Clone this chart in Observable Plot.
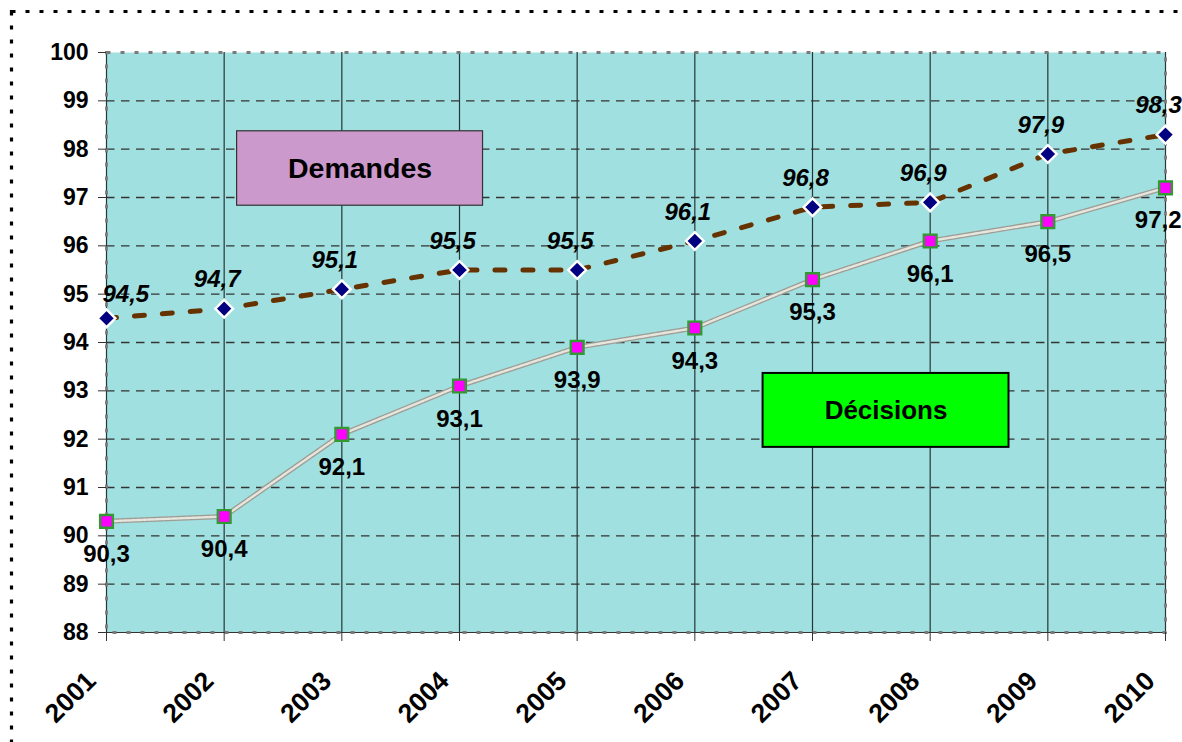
<!DOCTYPE html>
<html><head><meta charset="utf-8">
<script src="https://cdn.jsdelivr.net/npm/d3@7"></script>
<script src="https://cdn.jsdelivr.net/npm/@observablehq/plot@0.6"></script>
<style>html,body{margin:0;padding:0;background:#fff;} #chart svg{display:block;}</style>
</head><body><div id="chart"></div>
<script>
const years = [2001, 2002, 2003, 2004, 2005, 2006, 2007, 2008, 2009, 2010];
const demandes = [94.5, 94.7, 95.1, 95.5, 95.5, 96.1, 96.8, 96.9, 97.9, 98.3];
const decisions = [90.3, 90.4, 92.1, 93.1, 93.9, 94.3, 95.3, 96.1, 96.5, 97.2];
const yTicks = d3.range(88, 101);
const seriesNames = ["Demandes", "Décisions"];

const fmt = v => v.toFixed(1).replace(".", ",");
const dem = years.map((year, i) => ({year, value: demandes[i]}));
const dec = years.map((year, i) => ({year, value: decisions[i]}));
const FONT = "'Liberation Sans', Arial, sans-serif";
const last = years.length - 1;

const plot = Plot.plot({
  width: 1182, height: 742,
  marginLeft: 106, marginRight: 17, marginTop: 52, marginBottom: 110,
  style: {fontFamily: FONT, background: "white", overflow: "visible", color: "black"},
  x: {type: "linear", domain: [2001, 2010]},
  y: {domain: [88, 100]},
  marks: [
    Plot.frame({fill: "#a1e0e0"}),
    Plot.ruleX(years, {stroke: "#263636", strokeWidth: 1.2}),
    Plot.ruleY(yTicks.slice(1, -1), {stroke: "#333", strokeWidth: 1.3, strokeDasharray: "8.5,6.5"}),
    Plot.ruleY([88], {stroke: "#333", strokeWidth: 1}),
    Plot.frame({stroke: "#7a7a7a", strokeWidth: 2.8, strokeDasharray: "4,10"}),
    Plot.axisY({ticks: yTicks, tickSize: 8, tickPadding: 10, tickFormat: d => String(d), fontSize: 23, fontWeight: "bold", label: null, stroke: "#333"}),
    Plot.axisX({ticks: years, tickSize: 9, tickFormat: () => "", label: null, stroke: "#333"}),
    Plot.text(years, {x: d => d, frameAnchor: "bottom", text: d => String(d), rotate: -45,
      textAnchor: "end", lineAnchor: "middle", dx: -15, dy: 44, fontSize: 26.5, fontWeight: "bold", fill: "black"}),
    Plot.rect([seriesNames[0]], {x1: 2002.11, x2: 2004.2, y1: 96.83, y2: 98.37, fill: "#cc99cc", stroke: "#333", strokeWidth: 1.2}),
    Plot.text([seriesNames[0]], {x: 2003.155, y: 97.6, text: d => d, fontSize: 28.5, fontWeight: "bold", fill: "black"}),
    Plot.rect([seriesNames[1]], {x1: 2006.58, x2: 2008.67, y1: 91.83, y2: 93.36, fill: "#00ff00", stroke: "black", strokeWidth: 2}),
    Plot.text([seriesNames[1]], {x: 2007.625, y: 92.595, text: d => d, fontSize: 26, fontWeight: "bold", fill: "black"}),
    Plot.line(dec, {x: "year", y: "value", stroke: "#9e9e96", strokeWidth: 5}),
    Plot.line(dec, {x: "year", y: "value", stroke: "#e6e6de", strokeWidth: 2.4, strokeDasharray: "1.5,1.2"}),
    Plot.line(dem, {x: "year", y: "value", stroke: "#663300", strokeWidth: 5, strokeDasharray: "10,18"}),
    Plot.dot(dec, {x: "year", y: "value", symbol: "square", r: 7.2, fill: "#ff00ff", stroke: "#339933", strokeWidth: 2.4}),
    Plot.dot(dem, {x: "year", y: "value", symbol: "diamond2", r: 8, fill: "#000080", stroke: "white", strokeWidth: 2.4}),
    Plot.text(dem.slice(0, 1), {x: "year", y: "value", text: d => fmt(d.value), textAnchor: "start", dx: -4, dy: -24,
      fontSize: 24, fontWeight: "bold", fontStyle: "italic", fill: "black"}),
    Plot.text(dem.slice(1), {x: "year", y: "value", text: d => fmt(d.value), dx: -7, dy: -29,
      fontSize: 24, fontWeight: "bold", fontStyle: "italic", fill: "black"}),
    Plot.text(dec.slice(0, last), {x: "year", y: "value", text: d => fmt(d.value), dy: 33,
      fontSize: 24, fontWeight: "bold", fill: "black"}),
    Plot.text(dec.slice(last), {x: "year", y: "value", text: d => fmt(d.value), textAnchor: "end", dx: 16, dy: 32,
      fontSize: 24, fontWeight: "bold", fill: "black"})
  ]
});

d3.select(plot).append("rect")
  .attr("x", 11.5).attr("y", 11.5).attr("width", 1300).attr("height", 900)
  .attr("fill", "none").attr("stroke", "black").attr("stroke-width", 3.2)
  .attr("stroke-dasharray", "4,10");

document.getElementById("chart").appendChild(plot);
</script>
</body></html>
